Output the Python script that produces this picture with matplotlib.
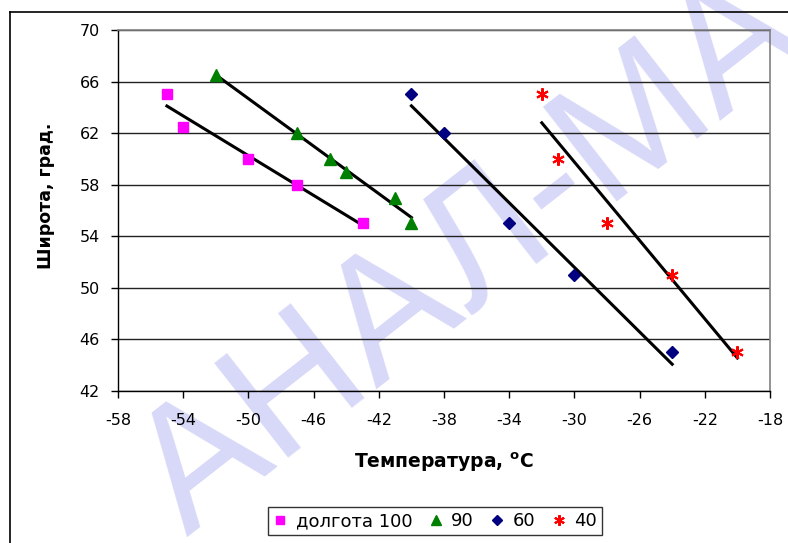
import matplotlib
matplotlib.use("Agg")
import matplotlib.pyplot as plt
import numpy as np
from matplotlib.lines import Line2D

plt.rcParams['font.family'] = ['DejaVu Sans']
plt.rcParams['axes.unicode_minus'] = False
plt.rcParams['mathtext.fontset'] = 'custom'
plt.rcParams['mathtext.rm'] = 'DejaVu Sans'
plt.rcParams['mathtext.bf'] = 'DejaVu Sans:bold'

# data: temperature (x) vs latitude (y) per longitude
t_100 = [-55, -54, -50, -47, -43]
lat_100 = [65, 62.5, 60, 58, 55]

t_90 = [-52, -47, -45, -44, -41, -40]
lat_90 = [66.5, 62, 60, 59, 57, 55]

t_60 = [-40, -38, -34, -30, -24]
lat_60 = [65, 62, 55, 51, 45]

t_40 = [-32, -31, -28, -24, -20]
lat_40 = [65, 60, 55, 51, 45]

labels = ['долгота 100', '90', '60', '40']

fig = plt.figure(figsize=(7.88, 5.43), dpi=100)

# watermark
fig.text(0.645, 0.58, 'АНАЛ-МАГ', rotation=38, fontsize=125, color='#d8d8f8',
         ha='center', va='center', family='Liberation Sans', zorder=0)

ax = fig.add_axes([118/788, 1-391/543, 652/788, 361/543])
ax.patch.set_alpha(0)
ax.set_zorder(2)

ax.set_xlim(-58, -18)
ax.set_ylim(42, 70)
ax.set_xticks(np.arange(-58, -17, 4))
ax.set_yticks(np.arange(42, 71, 4))
ax.yaxis.grid(True, color='#222222', lw=1)
ax.set_axisbelow(True)

for s in ['top', 'right']:
    ax.spines[s].set_color('#808080')
    ax.spines[s].set_linewidth(1.2)
for s in ['left', 'bottom']:
    ax.spines[s].set_color('black')
    ax.spines[s].set_linewidth(1)

ax.tick_params(axis='y', direction='out', length=5, width=1, pad=8, labelsize=11.5)
ax.tick_params(axis='x', direction='out', length=5, width=1, pad=11, labelsize=11.5)

series = [
    (t_100, lat_100, 's', '#FF00FF', 7, 1),
    (t_90, lat_90, '^', '#008000', 8, 1),
    (t_60, lat_60, 'D', '#000080', 6.5, 1),
    (t_40, lat_40, (6, 2, 0), '#FF0000', 9, 1.5),
]

handles = []
for (x, y, m, c, ms, mew), lab in zip(series, labels):
    ax.plot(x, y, ls='none', marker=m, color=c, ms=ms, mew=mew, mec=c, zorder=4)
    # linear trend line
    k, b = np.polyfit(x, y, 1)
    xx = np.array([min(x), max(x)])
    ax.plot(xx, k*xx + b, color='black', lw=2.2, zorder=3)
    handles.append(Line2D([], [], ls='none', marker=m, color=c, ms=ms*0.85, mew=mew, mec=c))

ax.set_ylabel('Широта, град.', fontsize=12.5, fontweight='bold')
ax.yaxis.set_label_coords(-0.097, 0.54)
ax.set_xlabel(r'Температура, $\mathbf{^{o}C}$', fontsize=13.5, fontweight='bold')
ax.xaxis.set_label_coords(0.5, -0.165)

leg = fig.legend(handles, labels, loc='center', bbox_to_anchor=(435/788, 1-521/543),
                 ncol=4, fontsize=13, frameon=True, fancybox=False,
                 handlelength=0.8, handletextpad=0.45, columnspacing=0.9,
                 borderpad=0.3, borderaxespad=0)
leg.get_frame().set_edgecolor('black')
leg.get_frame().set_linewidth(1)

# outer chart border
fig.add_artist(Line2D([10/788, 10/788], [0, 1-12/543], color='black', lw=1.2))
fig.add_artist(Line2D([10/788, 1], [1-12/543, 1-12/543], color='black', lw=1.2))

fig.savefig('out.png', dpi=100)
